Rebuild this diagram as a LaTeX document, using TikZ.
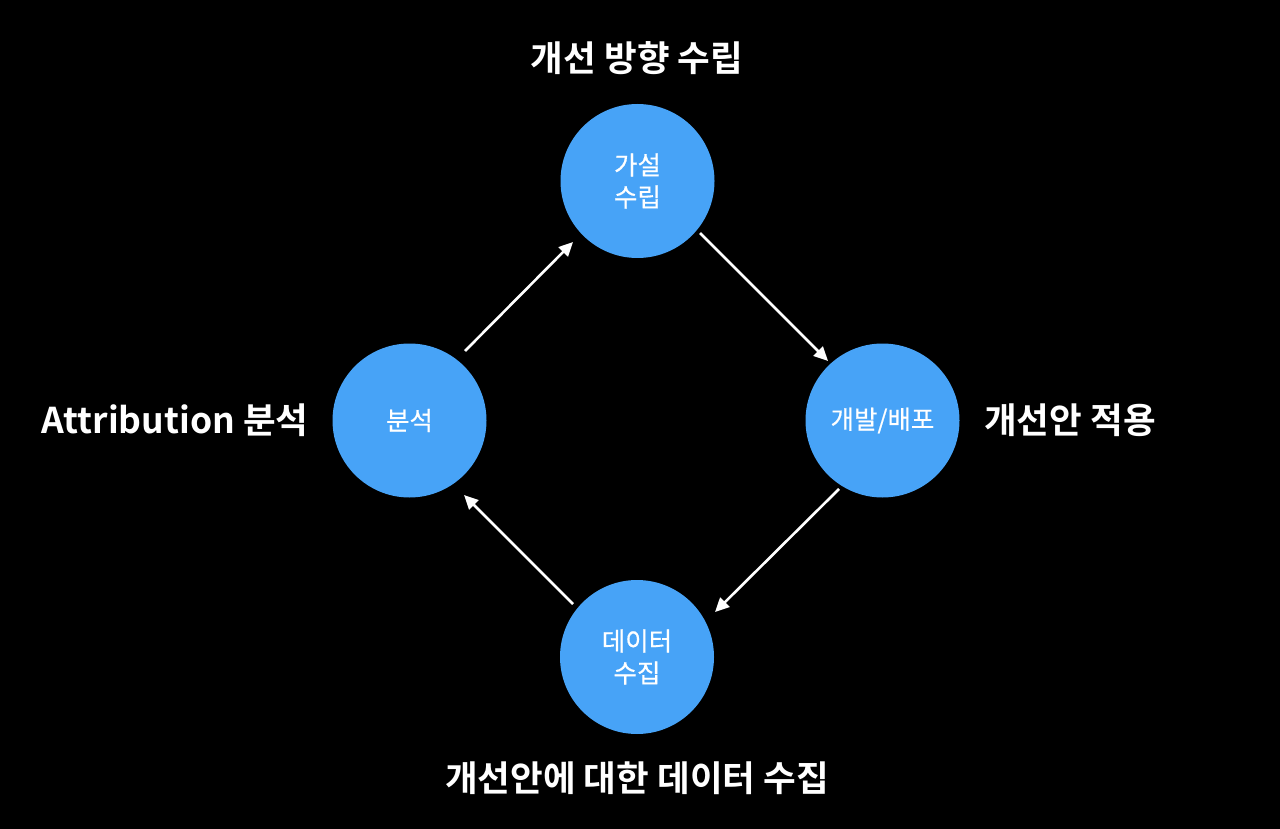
\documentclass[tikz,border=0pt]{standalone}
\usepackage{fontspec}
\setmainfont{Noto Sans CJK KR}[BoldFont={Noto Sans CJK KR Bold}]
\newfontfamily\medfont{Noto Sans CJK KR}[FakeBold=0.6]
\usetikzlibrary{calc,arrows.meta}
\definecolor{nodeblue}{RGB}{71,163,247}
\tikzset{
  stage/.style={circle, fill=nodeblue, draw=none, minimum size=154pt, inner sep=0pt,
    text=white, align=center, font=\medfont\fontsize{25.5pt}{32pt}\selectfont},
  caption/.style={text=white, inner sep=0pt, font=\fontsize{35.5pt}{42pt}\selectfont\bfseries},
  flow/.style={draw=white, line width=2.6pt, -{Triangle[length=14pt,width=13pt]}}
}
\begin{document}
\begin{tikzpicture}[x=1pt,y=-1pt]
\fill[black] (0,0) rectangle (1280,829);
\useasboundingbox (0,0) rectangle (1280,829);
\node[stage] (T) at (637.5,181) {가설\\수립};
\node[stage] (L) at (409.5,420.5) {분석};
\node[stage] (R) at (882.5,420.5) {개발/배포};
\node[stage] (B) at (637,657) {데이터\\수집};
\node[caption] (tT) at (637,58) {개선 방향 수립};
\node[caption] (tL) at (175,420) {Attribution 분석};
\node[caption] (tR) at (1070,420) {개선안 적용};
\node[caption] (tB) at (637,778) {개선안에 대한 데이터 수집};
\draw[flow] ($(L)+(55.5,-69.5)$) -- ($(T)+(-64.5,61)$);
\draw[flow] ($(T)+(62.5,52)$) -- ($(R)+(-54.5,-59.5)$);
\draw[flow] ($(R)+(-43.5,68.5)$) -- ($(B)+(78,-45)$);
\draw[flow] ($(B)+(-64,-53)$) -- ($(L)+(54.5,74.5)$);
\end{tikzpicture}
\end{document}
